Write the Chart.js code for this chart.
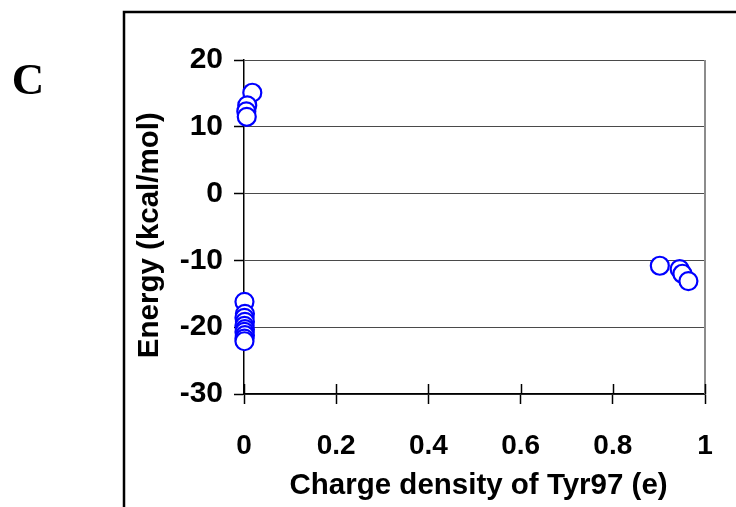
<!DOCTYPE html>
<html>
<head>
<meta charset="utf-8">
<script src="https://cdn.jsdelivr.net/npm/chart.js@4.4.1/dist/chart.umd.min.js"></script>
<style>
  html, body { margin: 0; padding: 0; background: #ffffff; }
  #wrap { width: 736px; height: 507px; }
</style>
</head>
<body>
<div id="wrap"><canvas id="chart" width="736" height="507"></canvas></div>
<script>
// Tyr97 charge density (e) vs. energy (kcal/mol), three groups of states
const chargeNeutralUp = [0.018, 0.007, 0.005, 0.006];
const energyNeutralUp = [15.1, 13.2, 12.3, 11.5];

const chargeNeutralDown = [0.001, 0.002, 0.001, 0.002, 0.001, 0.002, 0.001, 0.002, 0.001, 0.001];
const energyNeutralDown = [-16.2, -18.0, -18.6, -19.2, -19.8, -20.3, -20.7, -21.2, -21.7, -22.1];

const chargeAnionic = [0.902, 0.945, 0.951, 0.964];
const energyAnionic = [-10.8, -11.3, -12.0, -13.1];

const xTicks = [0, 0.2, 0.4, 0.6, 0.8, 1];
const yTicks = [-30, -20, -10, 0, 10, 20];

const xTitle = 'Charge density of Tyr97 (e)';
const yTitle = 'Energy (kcal/mol)';
const panelLabel = 'C';

const toPoints = (xs, ys) => xs.map((x, i) => ({ x: x, y: ys[i] }));

const sans = '"Liberation Sans", Arial, Helvetica, sans-serif';
const xTickFont = { family: sans, size: 28, weight: 'bold' };
const yTickFont = { family: sans, size: 30, weight: 'bold' };
const titleFont = { family: sans, size: 29.5, weight: 'bold' };

const pointStyle = {
  pointStyle: 'circle',
  pointRadius: 9,
  pointHoverRadius: 9,
  pointBorderWidth: 2.2,
  borderColor: '#0000ff',
  backgroundColor: '#ffffff',
  pointBorderColor: '#0000ff',
  pointBackgroundColor: '#ffffff',
  showLine: false,
  clip: false
};

// Outer panel frame, panel letter, right edge of the plot and inner halves of the x tick marks
const decorations = {
  id: 'decorations',
  afterDraw(chart) {
    const ctx = chart.ctx;
    const xs = chart.scales.x;
    const ys = chart.scales.y;
    ctx.save();
    // right border of plot area
    ctx.strokeStyle = '#8c8c8c';
    ctx.lineWidth = 2;
    const xr = Math.round(xs.getPixelForValue(1));
    ctx.beginPath();
    ctx.moveTo(xr, ys.getPixelForValue(20));
    ctx.lineTo(xr, ys.getPixelForValue(-30));
    ctx.stroke();
    // inner tick stubs on the x axis
    ctx.strokeStyle = '#000000';
    ctx.lineWidth = 1.5;
    const yb = ys.getPixelForValue(-30);
    xTicks.forEach(v => {
      const px = Math.round(xs.getPixelForValue(v)) + 0.5;
      ctx.beginPath();
      ctx.moveTo(px, yb);
      ctx.lineTo(px, yb - 10);
      ctx.stroke();
    });
    // outer frame (open to the right and bottom)
    ctx.strokeStyle = '#000000';
    ctx.lineWidth = 2.5;
    ctx.beginPath();
    ctx.moveTo(124, 520);
    ctx.lineTo(124, 12);
    ctx.lineTo(750, 12);
    ctx.stroke();
    // panel letter
    ctx.fillStyle = '#000000';
    ctx.font = 'bold 45px "Liberation Serif", "Times New Roman", serif';
    ctx.textAlign = 'center';
    ctx.textBaseline = 'alphabetic';
    ctx.fillText(panelLabel, 28, 94);
    ctx.restore();
  }
};

new Chart(document.getElementById('chart'), {
  type: 'scatter',
  data: {
    datasets: [
      Object.assign({ label: 'neutral, high', data: toPoints(chargeNeutralUp, energyNeutralUp) }, pointStyle),
      Object.assign({ label: 'neutral, low', data: toPoints(chargeNeutralDown, energyNeutralDown) }, pointStyle),
      Object.assign({ label: 'anionic', data: toPoints(chargeAnionic, energyAnionic) }, pointStyle)
    ]
  },
  options: {
    responsive: false,
    animation: false,
    devicePixelRatio: 1,
    layout: { padding: { left: 125, top: 60, right: 31, bottom: 0 } },
    plugins: {
      legend: { display: false },
      tooltip: { enabled: false }
    },
    scales: {
      x: {
        type: 'linear',
        min: 0,
        max: 1,
        afterFit: s => { s.height = 113; s.paddingLeft = 0; s.paddingRight = 0; },
        afterBuildTicks: s => { s.ticks = xTicks.map(v => ({ value: v })); },
        ticks: {
          color: '#000000',
          font: xTickFont,
          padding: 25,
          maxRotation: 0,
          autoSkip: false,
          callback: v => String(v)
        },
        grid: {
          drawOnChartArea: false,
          drawTicks: true,
          tickLength: 10,
          tickColor: '#000000',
          tickWidth: 1.5
        },
        border: { display: true, color: '#000000', width: 1.5 },
        title: {
          display: true,
          text: ' ' + xTitle,
          color: '#000000',
          font: titleFont,
          padding: { top: 0, bottom: 3 }
        }
      },
      y: {
        type: 'linear',
        min: -30,
        max: 20,
        afterFit: s => { s.width = 119; },
        afterBuildTicks: s => { s.ticks = yTicks.map(v => ({ value: v })); },
        ticks: {
          color: '#000000',
          font: yTickFont,
          padding: 11,
          autoSkip: false,
          callback: v => String(v)
        },
        grid: {
          drawOnChartArea: true,
          color: '#4a4a4a',
          lineWidth: 1,
          drawTicks: true,
          tickLength: 10,
          tickColor: '#000000',
          tickWidth: 1.5
        },
        border: { display: true, color: '#000000', width: 1.5 },
        title: {
          display: true,
          text: yTitle + '  ',
          color: '#000000',
          font: titleFont,
          padding: { top: 7, bottom: 0 }
        }
      }
    }
  },
  plugins: [decorations]
});
</script>
</body>
</html>
